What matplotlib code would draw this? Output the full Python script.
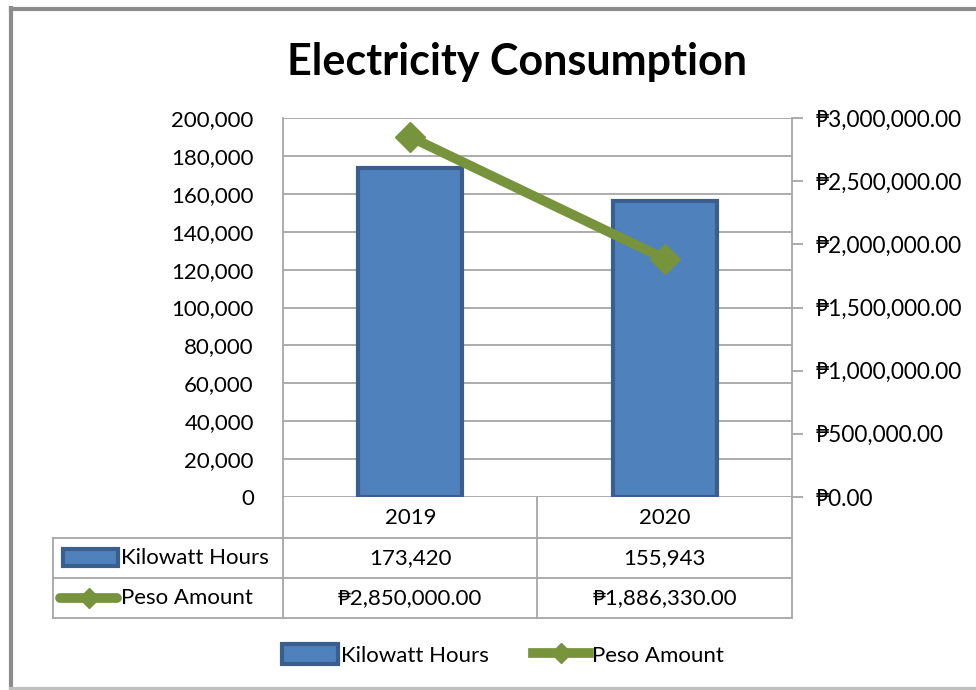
import matplotlib.pyplot as plt
import matplotlib.ticker as mticker
from matplotlib.patches import Patch, Rectangle
from matplotlib.lines import Line2D

years = ['2019', '2020']
kilowatt_hours = [173420, 155943]
peso_amount = [2850000.00, 1886330.00]
series_names = ['Kilowatt Hours', 'Peso Amount']

plt.rcParams['font.family'] = ['Lato', 'DejaVu Sans']

W, H = 976, 690
fig = plt.figure(figsize=(W / 100, H / 100), dpi=100)

def fx(px):
    return px / W

def fy(py):
    return 1 - py / H

bar_face = '#4F81BD'
bar_edge = '#3A5F8E'
line_col = '#77933C'
grid_col = '#A6A6A6'
fs = 16

# outer frame
fig.add_artist(Line2D([fx(11), fx(11)], [fy(8), fy(700)], color='#8C8C8C', lw=3))
fig.add_artist(Line2D([fx(11), fx(990)], [fy(9), fy(9)], color='#8C8C8C', lw=3))
fig.add_artist(Line2D([fx(11), fx(990)], [fy(689), fy(689)], color='#BFBFBF', lw=3))

L, R, T, B = 283, 792, 118, 497
ax = fig.add_axes([fx(L), fy(B), fx(R) - fx(L), fy(T) - fy(B)])
x = list(range(len(years)))
ax.bar(x, kilowatt_hours, width=0.41, color=bar_face, edgecolor=bar_edge,
       linewidth=3, zorder=3)
ax.set_xlim(-0.5, 1.5)
ax.set_ylim(0, 200000)
ax.yaxis.set_major_locator(mticker.MultipleLocator(20000))
ax.yaxis.set_major_formatter(mticker.FuncFormatter(lambda v, p: f'{int(v):,}'))
ax.tick_params(axis='y', length=0, labelsize=fs, pad=21)
ax.set_xticks([])
ax.grid(axis='y', color=grid_col, lw=1.3, zorder=0)
for s in ['top', 'bottom', 'right']:
    ax.spines[s].set_visible(False)
ax.spines['left'].set_color(grid_col)
ax.spines['left'].set_linewidth(1.3)

ax2 = ax.twinx()
ax2.plot(x, peso_amount, color=line_col, lw=7, marker='D', markersize=15,
         markeredgecolor=line_col, zorder=4, solid_capstyle='round')
ax2.set_ylim(0, 3000000)
ax2.yaxis.set_major_locator(mticker.MultipleLocator(500000))
ax2.yaxis.set_major_formatter(mticker.FuncFormatter(lambda v, p: f'\u20b1{v:,.2f}'))
ax2.tick_params(axis='y', direction='out', length=8, color=grid_col, width=1.3,
                labelsize=16.3, pad=9)
for s in ['top', 'bottom', 'left']:
    ax2.spines[s].set_visible(False)
ax2.spines['right'].set_color(grid_col)
ax2.spines['right'].set_linewidth(1.3)

fig.text(fx(517), fy(62), 'Electricity Consumption', ha='center', va='center',
         fontsize=31, fontweight='bold')

# data table
rows = [497, 538, 578, 618]
cols = [53, 283, 537, 792]
tl = dict(color=grid_col, lw=1.3)
fig.add_artist(Line2D([fx(cols[0]), fx(cols[3])], [fy(rows[1])] * 2, **tl))
fig.add_artist(Line2D([fx(cols[0]), fx(cols[3])], [fy(rows[2])] * 2, **tl))
fig.add_artist(Line2D([fx(cols[0]), fx(cols[3])], [fy(rows[3])] * 2, **tl))
for c in cols[1:]:
    fig.add_artist(Line2D([fx(c)] * 2, [fy(rows[0]), fy(rows[3])], **tl))
fig.add_artist(Line2D([fx(cols[0])] * 2, [fy(rows[1]), fy(rows[3])], **tl))

for i, yr in enumerate(years):
    cx = ax.transData.transform((x[i], 0))[0] / W
    fig.text(cx, fy((rows[0] + rows[1]) / 2), yr, ha='center', va='center', fontsize=fs)
    fig.text(cx, fy((rows[1] + rows[2]) / 2), f'{kilowatt_hours[i]:,}',
             ha='center', va='center', fontsize=fs)
    fig.text(cx, fy((rows[2] + rows[3]) / 2), f'\u20b1{peso_amount[i]:,.2f}',
             ha='center', va='center', fontsize=fs)

# row headers with legend keys
fig.add_artist(Rectangle((fx(63), fy(566)), fx(55), fy(549) - fy(566),
                         facecolor=bar_face, edgecolor=bar_edge, lw=3))
fig.text(fx(121), fy(558), series_names[0], ha='left', va='center', fontsize=fs)
fig.add_artist(Line2D([fx(60), fx(117)], [fy(598)] * 2, color=line_col, lw=7,
                      solid_capstyle='round'))
fig.add_artist(Line2D([fx(88.5)], [fy(598)], color=line_col, marker='D',
                      markersize=10, lw=0))
fig.text(fx(121), fy(598), series_names[1], ha='left', va='center', fontsize=fs)

# bottom legend
handles = [Patch(facecolor=bar_face, edgecolor=bar_edge, lw=3, label=series_names[0]),
           Line2D([], [], color=line_col, lw=7, marker='D', markersize=10,
                  label=series_names[1])]
fig.legend(handles=handles, loc='center', bbox_to_anchor=(fx(503), fy(655)), ncol=2,
           frameon=False, fontsize=fs, handlelength=2.5, handleheight=1.0,
           handletextpad=0.15, columnspacing=2.0)

fig.savefig('out.png', dpi=100)
